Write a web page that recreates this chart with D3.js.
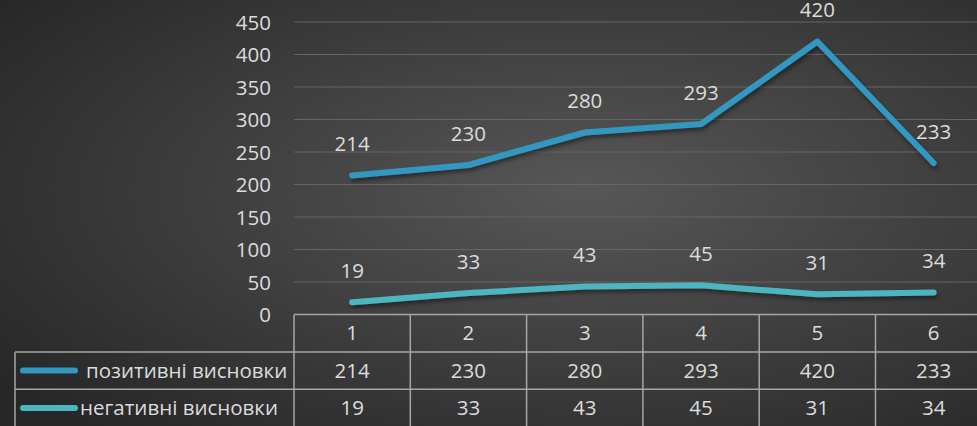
<!DOCTYPE html>
<html><head><meta charset="utf-8">
<script src="https://cdn.jsdelivr.net/npm/d3@7"></script>
<style>html,body{margin:0;padding:0;background:#333;overflow:hidden}</style>
</head><body>
<svg id="c" width="977" height="426"></svg>
<script>
const categories = ["1","2","3","4","5","6"];
const seriesNames = ["позитивні висновки","негативні висновки"];
const positive = [214,230,280,293,420,233];
const negative = [19,33,43,45,31,34];
const yTicks = [0,50,100,150,200,250,300,350,400,450];
const colors = ["#3398c2","#4db5bf"];

const W=977,H=426;
const svg=d3.select("#c");
const defs=svg.append("defs");
const rg=defs.append("radialGradient").attr("id","bg").attr("cx","0.6").attr("cy","0.45").attr("r","0.75");
rg.append("stop").attr("offset","0").attr("stop-color","#575757");
rg.append("stop").attr("offset","1").attr("stop-color","#272727");
svg.append("rect").attr("width",W).attr("height",H).attr("fill","url(#bg)");
const f=defs.append("filter").attr("id","sh").attr("x","-10%").attr("y","-20%").attr("width","120%").attr("height","160%");
f.append("feDropShadow").attr("dx",1.5).attr("dy",3).attr("stdDeviation",2).attr("flood-color","#000").attr("flood-opacity",0.45);

const font="'Open Sans','Noto Sans',sans-serif";
const fs="20.5px";
const txt="#dcdcdc";
const left=294, colW=116.3, right=left+colW*6;
const x=d3.scaleBand().domain(categories).range([left,right]).paddingInner(0).paddingOuter(0);
const y=d3.scaleLinear().domain([0,450]).range([314.5,22]);

// gridlines
svg.append("g").selectAll("line").data(yTicks.filter(d=>d>0)).join("line")
 .attr("x1",left).attr("x2",W).attr("y1",d=>y(d)).attr("y2",d=>y(d))
 .attr("stroke","#656565").attr("stroke-width",1.2);

// y axis labels
const yAxis=d3.axisLeft(y).tickValues(yTicks).tickSize(0).tickPadding(0);
const ya=svg.append("g").attr("transform",`translate(271,0)`).call(yAxis);
ya.select(".domain").remove();
ya.selectAll("text").attr("fill",txt).style("font-family",font).style("font-size",fs).attr("dy","0.35em");

// lines
const series=[positive,negative];
const line=d3.line().x((d,i)=>x(categories[i])+x.bandwidth()/2).y(d=>y(d));
series.forEach((s,k)=>{
  svg.append("path").datum(s).attr("d",line).attr("fill","none")
   .attr("stroke",colors[k]).attr("stroke-width",6).attr("stroke-linecap","round").attr("stroke-linejoin","round")
   .attr("filter","url(#sh)");
});
// data labels
series.forEach((s,k)=>{
  svg.append("g").selectAll("text").data(s).join("text")
   .attr("x",(d,i)=>x(categories[i])+x.bandwidth()/2).attr("y",d=>y(d)-24.5)
   .attr("text-anchor","middle").attr("fill",txt).style("font-family",font).style("font-size",fs)
   .text(d=>d);
});

// data table
const tb=314.5, rh=37.4, tl=15;
const tg=svg.append("g").attr("stroke","#a6a6a6").attr("stroke-width",1.5).attr("fill","none");
tg.append("line").attr("x1",left).attr("x2",W).attr("y1",tb).attr("y2",tb);
[1,2,3].forEach(r=>tg.append("line").attr("x1",tl).attr("x2",W).attr("y1",tb+rh*r).attr("y2",tb+rh*r));
tg.append("line").attr("x1",tl).attr("x2",tl).attr("y1",tb+rh).attr("y2",H);
categories.forEach(c=>tg.append("line").attr("x1",x(c)).attr("x2",x(c)).attr("y1",tb).attr("y2",H));
tg.append("line").attr("x1",x("6")+colW).attr("x2",x("6")+colW).attr("y1",tb).attr("y2",H);

const cy=r=>tb+rh*r+rh/2;
svg.append("g").selectAll("text").data(categories).join("text")
 .attr("x",d=>x(d)+x.bandwidth()/2).attr("y",cy(0)).attr("dy","0.35em")
 .attr("text-anchor","middle").attr("fill",txt).style("font-family",font).style("font-size",fs).text(d=>d);
series.forEach((s,k)=>{
  svg.append("g").selectAll("text").data(s).join("text")
   .attr("x",(d,i)=>x(categories[i])+x.bandwidth()/2).attr("y",cy(k+1)).attr("dy","0.35em")
   .attr("text-anchor","middle").attr("fill",txt).style("font-family",font).style("font-size",fs).text(d=>d);
  svg.append("line").attr("x1",23).attr("x2",75).attr("y1",cy(k+1)).attr("y2",cy(k+1))
   .attr("stroke",colors[k]).attr("stroke-width",6).attr("stroke-linecap","round");
  svg.append("text").attr("x",k===0?86:80).attr("y",cy(k+1)).attr("dy","0.35em")
   .attr("fill",txt).style("font-family",font).style("font-size",fs).text(seriesNames[k]);
});
</script>
</body></html>
